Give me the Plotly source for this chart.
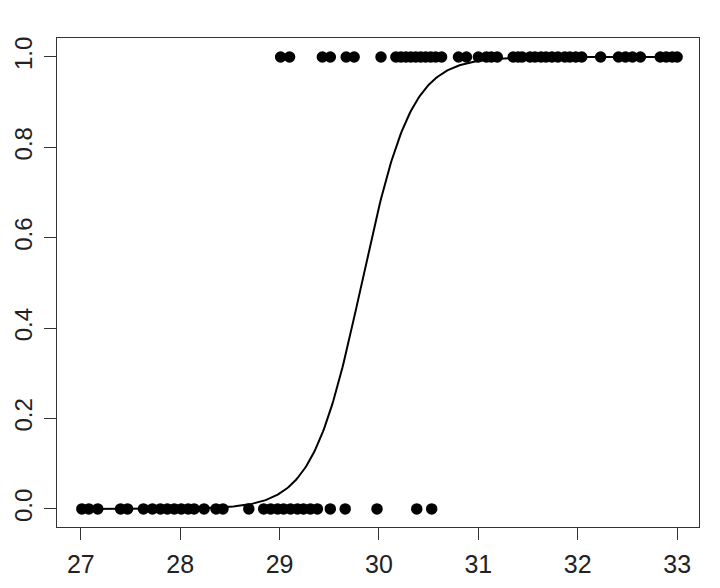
import numpy as np
import plotly.graph_objects as go

# Observations with outcome 1
x_ones = [29.01, 29.10, 29.43, 29.51, 29.67, 29.75, 30.02, 30.17, 30.22, 30.27,
          30.32, 30.37, 30.42, 30.47, 30.52, 30.57, 30.63, 30.80, 30.88, 31.00,
          31.08, 31.13, 31.19, 31.35, 31.40, 31.44, 31.52, 31.57, 31.63, 31.68,
          31.74, 31.80, 31.87, 31.92, 31.98, 32.04, 32.23, 32.41, 32.48, 32.55,
          32.63, 32.83, 32.89, 32.95, 33.00]
# Observations with outcome 0
x_zeros = [27.01, 27.08, 27.17, 27.40, 27.47, 27.63, 27.72, 27.80, 27.87, 27.94,
           28.01, 28.08, 28.14, 28.24, 28.36, 28.43, 28.69, 28.84, 28.91, 28.98,
           29.04, 29.11, 29.18, 29.24, 29.31, 29.38, 29.51, 29.66, 29.98, 30.38,
           30.53]

# Fitted logistic model coefficients
curve_intercept = -120.5
curve_slope = 4.04

x_ticks = [27, 28, 29, 30, 31, 32, 33]
y_ticks = [0.0, 0.2, 0.4, 0.6, 0.8, 1.0]
y_tick_labels = ["0.0", "0.2", "0.4", "0.6", "0.8", "1.0"]

xs = np.linspace(27, 33, 400)
ys = 1.0 / (1.0 + np.exp(-(curve_intercept + curve_slope * xs)))

fig = go.Figure()
fig.add_trace(go.Scatter(
    x=xs, y=ys, mode="lines",
    line=dict(color="black", width=2), hoverinfo="skip"))
fig.add_trace(go.Scatter(
    x=x_ones + x_zeros, y=[1] * len(x_ones) + [0] * len(x_zeros),
    mode="markers", marker=dict(color="black", size=11.5, line=dict(width=0))))

axis_common = dict(
    showgrid=False, zeroline=False, showline=True, mirror=True,
    linecolor="#333", linewidth=1, ticks="outside", ticklen=12,
    tickcolor="#333", tickwidth=1, automargin=False,
)
font = dict(family="Liberation Sans, Arial, sans-serif", color="#222")

# The page body adds an 8px offset, so the figure is sized to fill the rest.
fig.update_layout(
    width=712, height=580,
    margin=dict(l=49, r=21, t=30, b=61),
    paper_bgcolor="white", plot_bgcolor="white",
    showlegend=False,
    xaxis=dict(range=[26.76, 33.22], tickvals=x_ticks, ticklabelstandoff=3,
               tickfont=dict(size=25, **font), **axis_common),
    yaxis=dict(range=[-0.04, 1.042], tickvals=y_ticks, ticktext=y_tick_labels,
               tickangle=-90, ticklabelstandoff=2,
               tickfont=dict(size=24, **font), **axis_common),
)

fig.write_html("out.html")
